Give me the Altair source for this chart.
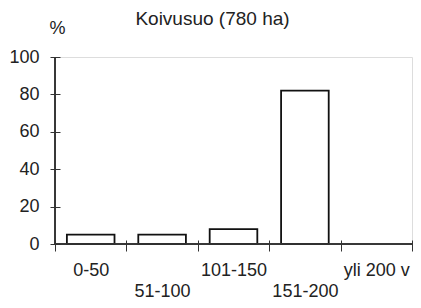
import altair as alt
import pandas as pd

categories = ["0-50", "51-100", "101-150", "151-200", "yli 200 v"]
values = [5, 5, 8, 82, 0]
y_ticks = [0, 20, 40, 60, 80, 100]
lower_row = ["51-100", "151-200"]

df = pd.DataFrame({"ika": categories, "osuus": values})

FONT = "Liberation Sans"
INK = "#222222"
AXC = "#333333"

label_expr = (
    "indexof(" + str(lower_row).replace('"', "'") + ", datum.value) >= 0 ? ['', datum.label] : datum.label"
)

x_axis = alt.Axis(
    title=None,
    labelAngle=0,
    tickBand="extent",
    offset=-4,
    tickSize=11,
    domain=False,
    labelPadding=10,
    labelBaseline="top",
    labelLineHeight=21,
    labelExpr=label_expr,
    labelFont=FONT,
    labelFontSize=18,
    labelColor=INK,
    tickColor=AXC,
    labelOverlap=False,
)

y_axis = alt.Axis(
    values=y_ticks,
    title="%",
    titleAngle=0,
    titleX=-3,
    titleY=-24,
    titleAlign="center",
    titleBaseline="alphabetic",
    titleFont=FONT,
    titleFontSize=18,
    titleFontWeight="normal",
    titleColor=INK,
    offset=-5,
    tickSize=10,
    domain=False,
    labelPadding=11,
    labelFont=FONT,
    labelFontSize=18,
    labelColor=INK,
    labelOverlap=False,
    tickColor=AXC,
    grid=False,
)

y_scale = alt.Scale(domain=[0, 100], nice=False)

bars = (
    alt.Chart(df)
    .transform_filter("datum.osuus > 0")
    .mark_bar(fill="white", stroke="#111111", strokeWidth=1.8, width=alt.RelativeBandSize(0.667))
    .encode(
        x=alt.X(
            "ika:N",
            sort=categories,
            scale=alt.Scale(domain=categories, paddingInner=0, paddingOuter=0),
            axis=x_axis,
        ),
        y=alt.Y("osuus:Q", scale=y_scale, axis=y_axis),
    )
)

y_line = alt.Chart(df).mark_rule(color=AXC, strokeWidth=1).encode(
    x=alt.value(0),
    y=alt.YDatum(y_ticks[0], type="quantitative", scale=y_scale, axis=y_axis),
    y2=alt.Y2Datum(y_ticks[-1]),
)
x_line = alt.Chart(df).mark_rule(color=AXC, strokeWidth=1).encode(
    y=alt.YDatum(y_ticks[0], type="quantitative", scale=y_scale, axis=y_axis),
    x=alt.value(0),
    x2=alt.value("width"),
)

chart = (
    alt.layer(bars, y_line, x_line)
    .properties(
        width=357,
        height=187,
        autosize=alt.AutoSizeParams(type="none"),
        padding={"left": 47, "top": 49, "right": 1, "bottom": 56},
        title=alt.TitleParams(
            text="Koivusuo (780 ha)",
            font=FONT,
            fontSize=19,
            fontWeight="normal",
            color=INK,
            anchor="middle",
            frame="group",
            dx=-21,
            baseline="alphabetic",
            offset=0,
            dy=25,
        ),
    )
    .configure_view(strokeWidth=0)
    .configure(background="white")
)

chart.save("out.html", embed_options={"renderer": "svg", "actions": False})
